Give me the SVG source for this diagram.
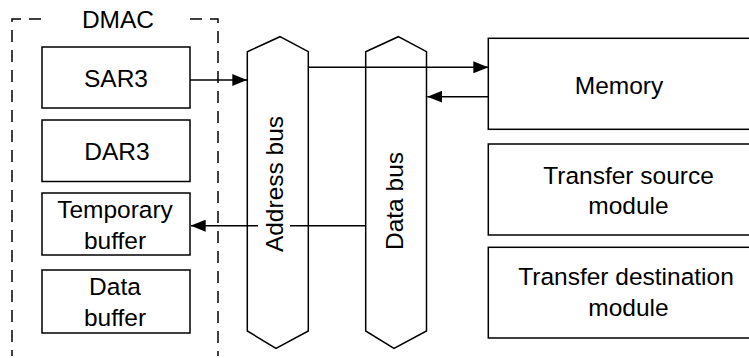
<svg xmlns="http://www.w3.org/2000/svg" width="749" height="358" viewBox="0 0 749 358">
<style>
.box{fill:#fff;stroke:#000;stroke-width:1.5}
.t{font-family:"Liberation Sans",Arial,sans-serif;font-size:24.5px;fill:#000;text-anchor:middle}
.ln{fill:none;stroke:#000;stroke-width:1.5}
.dash{fill:none;stroke:#000;stroke-width:1.5;stroke-dasharray:12 8}
</style>
<defs>
<marker id="ah" markerWidth="15" markerHeight="12" refX="15" refY="6" orient="auto" markerUnits="userSpaceOnUse">
<path d="M0,0 L15,6 L0,12 Z" fill="#000"/>
</marker>
</defs>
<rect width="749" height="358" fill="#fff"/>
<g id="dmac">
<path class="dash" d="M41,19 H12 V356"/>
<path class="dash" d="M190,19 H218 V356"/>
<text class="t" x="118" y="28">DMAC</text>
</g>
<g id="sar3">
<rect class="box" x="42" y="47" width="148" height="61"/>
<text class="t" x="116" y="87">SAR3</text>
</g>
<g id="dar3">
<rect class="box" x="42" y="120" width="148" height="61.5"/>
<text class="t" x="117" y="160">DAR3</text>
</g>
<g id="tempbuf">
<rect class="box" x="42" y="193" width="148" height="62"/>
<text class="t" x="115" y="218">Temporary</text>
<text class="t" x="115" y="249">buffer</text>
</g>
<g id="databuf">
<rect class="box" x="42" y="270" width="148" height="63"/>
<text class="t" x="115" y="295">Data</text>
<text class="t" x="115" y="326">buffer</text>
</g>
<g id="addrbus">
<polygon class="box" points="247.3,51.7 280,36.7 308.3,51.7 308.3,331 276,348.3 247.3,331"/>
<text class="t" transform="translate(283,184) rotate(-90)">Address bus</text>
</g>
<g id="databus">
<polygon class="box" points="365.7,51.7 398.3,36.7 426.5,51.7 426.5,331 394,348.3 365.7,331"/>
<text class="t" transform="translate(403,201) rotate(-90)">Data bus</text>
</g>
<g id="memory">
<rect class="box" x="488.3" y="38.3" width="280" height="91"/>
<text class="t" x="619" y="94">Memory</text>
</g>
<g id="srcmod">
<rect class="box" x="488.3" y="144" width="280" height="91"/>
<text class="t" x="628.5" y="183.5">Transfer source</text>
<text class="t" x="628.5" y="214">module</text>
</g>
<g id="dstmod">
<rect class="box" x="488.3" y="247.3" width="280" height="90.7"/>
<text class="t" x="626" y="285">Transfer destination</text>
<text class="t" x="628.5" y="315.5">module</text>
</g>
<g id="connectors">
<path class="ln" d="M190,80 L247.3,80" marker-end="url(#ah)"/>
<path class="ln" d="M308.3,67.3 L488.3,67.3" marker-end="url(#ah)"/>
<path class="ln" d="M488.3,96.7 L427.3,96.7" marker-end="url(#ah)"/>
<path class="ln" d="M365.7,225.7 L290,225.7 M258,225.7 L190.7,225.7" marker-end="url(#ah)"/>
</g>
</svg>
